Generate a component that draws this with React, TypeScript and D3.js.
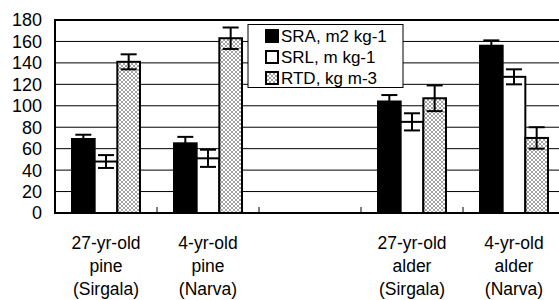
import * as d3 from 'd3';

const categories = [
  ['27-yr-old', 'pine', '(Sirgala)'],
  ['4-yr-old', 'pine', '(Narva)'],
  [],
  ['27-yr-old', 'alder', '(Sirgala)'],
  ['4-yr-old', 'alder', '(Narva)'],
];
const seriesNames = ['SRA, m2 kg-1', 'SRL, m kg-1', 'RTD, kg m-3'];
const sraValues = [69, 65, null, 104, 156];
const sraErrors = [4, 6, null, 6, 5];
const srlValues = [48, 51, null, 85, 127];
const srlErrors = [6, 8, null, 8, 7];
const rtdValues = [141, 163, null, 107, 70];
const rtdErrors = [7, 10, null, 12, 10];
const yTicks = [0, 20, 40, 60, 80, 100, 120, 140, 160, 180];

const W = 559;
const H = 300;
const left = 55;
const right = 565;
const top = 20;
const bottom = 213;
const font = 'Arial, "Liberation Sans", sans-serif';

export default function App() {
  const x0 = d3.scaleBand<number>().domain(d3.range(categories.length)).range([left, right]);
  const x1 = d3
    .scaleBand<number>()
    .domain([0, 1, 2])
    .range([0, x0.bandwidth()])
    .paddingInner(0)
    .paddingOuter(0.75);
  const y = d3.scaleLinear().domain([0, 180]).range([bottom, top]);

  const series = [
    { values: sraValues, errors: sraErrors, fill: '#000' },
    { values: srlValues, errors: srlErrors, fill: '#fff' },
    { values: rtdValues, errors: rtdErrors, fill: 'url(#hatch)' },
  ];
  const swatchFill = ['#000', '#fff', 'url(#hatch)'];

  return (
    <svg
      width={W}
      height={H}
      style={{ position: 'absolute', left: 0, top: 0, background: '#fff' }}
      fontFamily={font}
    >
      <defs>
        <pattern id="hatch" width={4} height={4} patternUnits="userSpaceOnUse">
          <rect width={4} height={4} fill="#fff" />
          <path d="M0,0L4,4M4,0L0,4" stroke="#666" strokeWidth={0.6} />
        </pattern>
      </defs>

      {/* gridlines */}
      {yTicks.slice(1).map((t) => (
        <line key={t} x1={left} x2={right} y1={y(t)} y2={y(t)} stroke="#000" strokeWidth={1} />
      ))}

      {/* tick labels */}
      {yTicks.map((t) => (
        <text key={t} x={42} y={y(t)} dy="0.36em" textAnchor="end" fontSize={18}>
          {t}
        </text>
      ))}

      {/* bars */}
      {series.map((s, si) =>
        s.values.map((v, ci) => {
          if (v == null) return null;
          const bx = (x0(ci) ?? 0) + (x1(si) ?? 0);
          return (
            <rect
              key={`${si}-${ci}`}
              x={bx}
              y={y(v)}
              width={x1.bandwidth()}
              height={y(0) - y(v)}
              fill={s.fill}
              stroke="#000"
              strokeWidth={2}
            />
          );
        })
      )}

      {/* error bars */}
      {series.map((s, si) =>
        s.values.map((v, ci) => {
          const e = s.errors[ci];
          if (v == null || e == null) return null;
          const cx = (x0(ci) ?? 0) + (x1(si) ?? 0) + x1.bandwidth() / 2;
          return (
            <g key={`e${si}-${ci}`} stroke="#000" strokeWidth={2}>
              <line x1={cx} x2={cx} y1={y(v - e)} y2={y(v + e)} />
              <line x1={cx - 8} x2={cx + 8} y1={y(v + e)} y2={y(v + e)} />
              <line x1={cx - 8} x2={cx + 8} y1={y(v - e)} y2={y(v - e)} />
            </g>
          );
        })
      )}

      {/* frame */}
      <line x1={left} x2={right} y1={top} y2={top} stroke="#000" strokeWidth={2} />
      <line x1={left} x2={left} y1={top - 1} y2={bottom + 1} stroke="#000" strokeWidth={2} />
      <line x1={left} x2={right} y1={bottom} y2={bottom} stroke="#000" strokeWidth={2} />
      {d3.range(1, categories.length).map((i) => (
        <line
          key={i}
          x1={x0(i) ?? 0}
          x2={x0(i) ?? 0}
          y1={bottom}
          y2={bottom - 6}
          stroke="#000"
          strokeWidth={1}
        />
      ))}

      {/* category labels */}
      {categories.map((lines, ci) => (
        <text
          key={ci}
          x={(x0(ci) ?? 0) + x0.bandwidth() / 2}
          y={249}
          textAnchor="middle"
          fontSize={17.5}
        >
          {lines.map((l, li) => (
            <tspan key={li} x={(x0(ci) ?? 0) + x0.bandwidth() / 2} dy={li === 0 ? 0 : 23}>
              {l}
            </tspan>
          ))}
        </text>
      ))}

      {/* legend */}
      <g>
        <rect x={248} y={24.5} width={155} height={63} fill="#fff" stroke="#000" strokeWidth={1} />
        {seriesNames.map((n, i) => (
          <g key={n} transform={`translate(266,${36 + i * 21})`}>
            <rect x={0} y={-6} width={12} height={12} fill={swatchFill[i]} stroke="#000" strokeWidth={2} />
            <text x={15} y={0} dy="0.36em" fontSize={17}>
              {n}
            </text>
          </g>
        ))}
      </g>
    </svg>
  );
}
